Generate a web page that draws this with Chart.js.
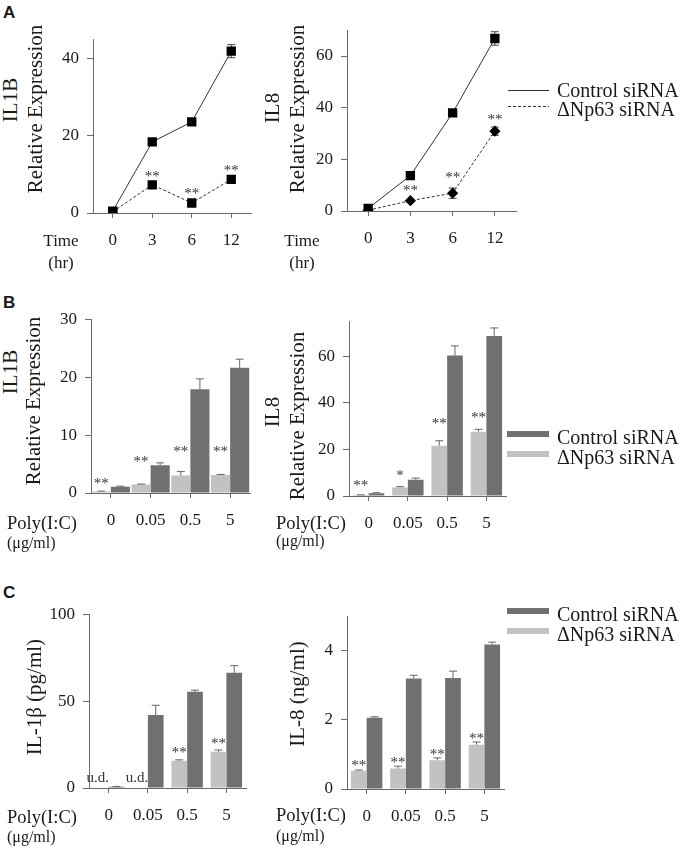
<!DOCTYPE html>
<html lang="en">
<head>
<meta charset="UTF-8">
<title>IL1B / IL8 after ΔNp63 knockdown</title>
<script src="https://cdn.jsdelivr.net/npm/chart.js"></script>
<style>
  body { margin: 0; background: #fff; }
  #fig { position: relative; width: 685px; height: 849px; overflow: hidden;
         font-family: 'Liberation Serif', 'Times New Roman', serif; color: #1a1a1a; }
  #fig canvas { position: absolute; }
  .txt { position: absolute; white-space: nowrap; font-size: 17px; line-height: 1; transform: translate(0, -50%); }
  .ctr { transform: translate(-50%, -50%); }
  .poly { font-size: 18.5px; }
  .unit { font-size: 16px; }
  .vert { position: absolute; white-space: nowrap; font-size: 21px; line-height: 1; transform: translate(-50%, -50%) rotate(-90deg); }
  .panel { position: absolute; left: 3px; font: bold 17px 'Liberation Sans', Arial, sans-serif; line-height: 1; }
  .leg { position: absolute; left: 557px; font-size: 20px; line-height: 1; white-space: nowrap; transform: translate(0, -50%); }
  svg { position: absolute; left: 0; top: 0; }
</style>
</head>
<body>
<div id="fig">
  <div class="panel" style="top:4px">A</div>
  <div class="panel" style="top:294px">B</div>
  <div class="panel" style="top:584px">C</div>

  <canvas id="a1"></canvas><canvas id="a2"></canvas>
  <canvas id="b1"></canvas><canvas id="b2"></canvas>
  <canvas id="c1"></canvas><canvas id="c2"></canvas>

  <!-- axis titles -->
  <div class="vert" style="left:10px;top:100px">IL1B</div>
  <div class="vert" style="left:35px;top:109px">Relative Expression</div>
  <div class="vert" style="left:272px;top:108px">IL8</div>
  <div class="vert" style="left:297px;top:109px">Relative Expression</div>
  <div class="vert" style="left:10px;top:372px">IL1B</div>
  <div class="vert" style="left:33px;top:401px">Relative Expression</div>
  <div class="vert" style="left:272px;top:412px">IL8</div>
  <div class="vert" style="left:297px;top:416px">Relative Expression</div>
  <div class="vert" style="left:34px;top:697px">IL-1β (pg/ml)</div>
  <div class="vert" style="left:297px;top:694px">IL-8 (ng/ml)</div>

  <!-- row captions for the x axes -->
  <div class="txt ctr" style="left:61px;top:240px">Time</div>
  <div class="txt ctr" style="left:61px;top:262px">(hr)</div>
  <div class="txt ctr" style="left:302px;top:240px">Time</div>
  <div class="txt ctr" style="left:302px;top:262px">(hr)</div>
  <div class="txt poly" style="left:7px;top:523px">Poly(I:C)</div>
  <div class="txt unit" style="left:7px;top:543px">(μg/ml)</div>
  <div class="txt poly" style="left:276px;top:523px">Poly(I:C)</div>
  <div class="txt unit" style="left:276px;top:541px">(μg/ml)</div>
  <div class="txt poly" style="left:7px;top:817px">Poly(I:C)</div>
  <div class="txt unit" style="left:7px;top:837px">(μg/ml)</div>
  <div class="txt poly" style="left:276px;top:815px">Poly(I:C)</div>
  <div class="txt unit" style="left:276px;top:836px">(μg/ml)</div>

  <!-- legends -->
  <svg width="685" height="849">
    <line x1="508" y1="90.5" x2="549" y2="90.5" stroke="#333" stroke-width="1"/>
    <line x1="508" y1="106.5" x2="549" y2="106.5" stroke="#333" stroke-width="1" stroke-dasharray="3,2"/>
    <rect x="507" y="431" width="42" height="6" fill="#707070"/>
    <rect x="507" y="451" width="42" height="6" fill="#c2c2c2"/>
    <rect x="507" y="608" width="42" height="6" fill="#707070"/>
    <rect x="507" y="628" width="42" height="6" fill="#c2c2c2"/>
  </svg>
  <div class="leg" style="top:90px">Control siRNA</div>
  <div class="leg" style="top:109px">ΔNp63 siRNA</div>
  <div class="leg" style="top:437px">Control siRNA</div>
  <div class="leg" style="top:457px">ΔNp63 siRNA</div>
  <div class="leg" style="top:614px">Control siRNA</div>
  <div class="leg" style="top:634px">ΔNp63 siRNA</div>
</div>

<script>
// ---- A: time course, relative expression ----
const timeLabels = ['0', '3', '6', '12'];

const il1bTimeCtrl = [0.5, 18.4, 23.6, 41.9];
const il1bTimeCtrlErr = [0.2, 0.4, 0.5, 1.7];
const il1bTimeKd = [0.3, 7.3, 2.6, 8.7];
const il1bTimeKdErr = [0.2, 0.4, 0.3, 0.5];
const il1bTimeMarks = ['', '**', '**', '**'];
const il1bTimeMarkAt = [0, 9.8, 5.4, 11.5];
const il1bTimeTicks = [0, 20, 40];

const il8TimeCtrl = [1.0, 13.7, 38.0, 66.8];
const il8TimeCtrlErr = [0.3, 0.6, 0.8, 2.6];
const il8TimeKd = [0.3, 4.0, 6.9, 30.9];
const il8TimeKdErr = [0.2, 0.5, 2.0, 1.6];
const il8TimeMarks = ['', '**', '**', '**'];
const il8TimeMarkAt = [0, 8.4, 13.5, 36.1];
const il8TimeTicks = [0, 20, 40, 60];

// ---- B: Poly(I:C) dose, relative expression ----
const doseLabels = ['0', '0.05', '0.5', '5'];

const il1bDoseCtrl = [1.07, 4.8, 17.9, 21.6];
const il1bDoseCtrlErr = [0.12, 0.4, 1.8, 1.5];
const il1bDoseKd = [0.28, 1.46, 3.0, 3.1];
const il1bDoseKdErr = [0.05, 0.08, 0.7, 0.1];
const il1bDoseMarks = ['**', '**', '**', '**'];
const il1bDoseMarkAt = [1.9, 5.6, 7.4, 7.4];
const il1bDoseTicks = [0, 10, 20, 30];

const il8DoseCtrl = [1.2, 7.0, 60.3, 68.7];
const il8DoseCtrlErr = [0.2, 0.7, 4.1, 3.4];
const il8DoseKd = [0.4, 3.6, 21.6, 27.6];
const il8DoseKdErr = [0.1, 0.4, 2.1, 1.0];
const il8DoseMarks = ['**', '*', '**', '**'];
const il8DoseMarkAt = [5.2, 9.4, 31.6, 34.4];
const il8DoseTicks = [0, 20, 40, 60];

// ---- C: secreted protein ----
const il1bProtCtrl = [0.7, 42, 55.4, 66.3];
const il1bProtCtrlErr = [0.2, 5.6, 0.9, 4.1];
const il1bProtKd = [null, null, 15.7, 20.8];
const il1bProtKdErr = [0, 0, 0.5, 1.1];
const il1bProtMarks = ['u.d.', 'u.d.', '**', '**'];
const il1bProtMarkAt = [5.1, 5.1, 21.3, 26.4];
const il1bProtTicks = [0, 50, 100];

const il8ProtCtrl = [2.06, 3.2, 3.21, 4.18];
const il8ProtCtrlErr = [0.03, 0.09, 0.2, 0.07];
const il8ProtKd = [0.53, 0.59, 0.83, 1.28];
const il8ProtKdErr = [0.02, 0.07, 0.07, 0.08];
const il8ProtMarks = ['**', '**', '**', '**'];
const il8ProtMarkAt = [0.73, 0.80, 1.03, 1.50];
const il8ProtTicks = [0, 2, 4];

const SERIF = "'Liberation Serif', 'Times New Roman', serif";
const INK = '#1a1a1a';
const AXIS = '#6a6a6a';
const DARK = '#707070';
const LIGHT = '#c2c2c2';

Chart.defaults.font.family = SERIF;
Chart.defaults.color = INK;
Chart.defaults.animation = false;

// chart area of each plot, in page pixels
const PAD_T = 14, PAD_R = 16, AX_W = 60, AX_H = 44;
const boxes = {
  a1: { L: 93, R: 251, T: 35, B: 213 },
  a2: { L: 347, R: 516, T: 26, B: 211 },
  b1: { L: 91, R: 250, T: 315, B: 493 },
  b2: { L: 349, R: 506, T: 317, B: 496 },
  c1: { L: 89, R: 246, T: 610, B: 788 },
  c2: { L: 347, R: 504, T: 612, B: 789 }
};

function mount(id) {
  const b = boxes[id];
  const c = document.getElementById(id);
  c.width = b.R - b.L + AX_W + PAD_R;
  c.height = b.B - b.T + PAD_T + AX_H;
  c.style.left = (b.L - AX_W) + 'px';
  c.style.top = (b.T - PAD_T) + 'px';
  return c;
}

function drawErrors(chart, behind) {
  const ctx = chart.ctx, y = chart.scales.y;
  chart.data.datasets.forEach((ds, i) => {
    if (!ds.errors || !!ds.errBoth !== behind) return;
    const meta = chart.getDatasetMeta(i);
    meta.data.forEach((el, j) => {
      const v = ds.data[j], e = ds.errors[j];
      if (v == null || !e) return;
      const cap = ds.errCap || 4;
      const yt = y.getPixelForValue(v + e);
      const yb = ds.errBoth ? y.getPixelForValue(v - e) : y.getPixelForValue(v);
      ctx.save();
      ctx.strokeStyle = ds.errColor || '#555';
      ctx.lineWidth = 1;
      ctx.beginPath();
      ctx.moveTo(el.x, yb); ctx.lineTo(el.x, yt);
      ctx.moveTo(el.x - cap, yt); ctx.lineTo(el.x + cap, yt);
      if (ds.errBoth) { ctx.moveTo(el.x - cap, yb); ctx.lineTo(el.x + cap, yb); }
      ctx.stroke();
      ctx.restore();
    });
  });
}

// error bars: two-sided ones (line charts) go under the markers, bar ones on top
const errorBars = {
  id: 'errorBars',
  beforeDatasetsDraw(chart) { drawErrors(chart, true); },
  afterDatasetsDraw(chart) { drawErrors(chart, false); }
};

// significance marks (** / * / u.d.) above a dataset's points
const sigMarks = {
  id: 'sigMarks',
  afterDatasetsDraw(chart) {
    const ctx = chart.ctx, y = chart.scales.y;
    chart.data.datasets.forEach((ds, i) => {
      if (!ds.marks) return;
      const meta = chart.getDatasetMeta(i);
      ds.marks.forEach((m, j) => {
        if (!m) return;
        const el = meta.data[j];
        const star = m.indexOf('*') >= 0;
        ctx.save();
        ctx.font = '15px ' + SERIF;
        ctx.fillStyle = '#333';
        ctx.textAlign = 'center';
        ctx.textBaseline = 'middle';
        ctx.fillText(m, el.x + (star ? 0 : -3), y.getPixelForValue(ds.markAt[j]) + (star ? 2 : -1));
        ctx.restore();
      });
    });
  }
};

function scales(yMax, yTicks) {
  return {
    x: {
      type: 'category',
      offset: true,
      grid: { display: true, drawOnChartArea: false, offset: false, tickLength: 5, color: AXIS },
      border: { color: AXIS },
      ticks: { font: { size: 17 }, padding: 12, color: INK, maxRotation: 0, autoSkip: false },
      afterFit: s => { s.height = AX_H; }
    },
    y: {
      min: 0, max: yMax,
      grid: { drawOnChartArea: false, tickLength: 6, color: AXIS },
      border: { color: AXIS },
      ticks: { font: { size: 17 }, padding: 8, color: INK },
      afterBuildTicks: s => { s.ticks = yTicks.map(v => ({ value: v })); },
      afterFit: s => { s.width = AX_W; }
    }
  };
}

const baseOptions = {
  responsive: false,
  layout: { padding: { top: PAD_T, right: PAD_R, left: 0, bottom: 0 } },
  plugins: { legend: { display: false }, tooltip: { enabled: false } }
};

function lineChart(id, ctrl, ctrlErr, kd, kdErr, kdStyle, marks, markAt, yMax, yTicks) {
  new Chart(mount(id), {
    type: 'line',
    data: {
      labels: timeLabels,
      datasets: [
        {
          label: 'Control siRNA', data: ctrl, errors: ctrlErr, errBoth: true, errColor: '#444',
          borderColor: '#333', borderWidth: 1, tension: 0,
          pointStyle: 'rect', pointRadius: 6.6, pointBackgroundColor: '#000', pointBorderWidth: 0
        },
        {
          label: 'ΔNp63 siRNA', data: kd, errors: kdErr, errBoth: true, errColor: '#444',
          marks: marks, markAt: markAt,
          borderColor: '#333', borderWidth: 1, borderDash: [3, 2], tension: 0,
          pointStyle: kdStyle, pointRadius: kdStyle === 'rect' ? 6.6 : 5.6,
          pointBackgroundColor: '#000', pointBorderWidth: 0
        }
      ]
    },
    options: Object.assign({}, baseOptions, { scales: scales(yMax, yTicks) }),
    plugins: [errorBars, sigMarks]
  });
}

function barChart(id, ctrl, ctrlErr, kd, kdErr, marks, markAt, yMax, yTicks, catPct) {
  new Chart(mount(id), {
    type: 'bar',
    data: {
      labels: doseLabels,
      datasets: [
        {
          label: 'ΔNp63 siRNA', data: kd, errors: kdErr, errColor: '#666', errCap: 4,
          marks: marks, markAt: markAt,
          backgroundColor: LIGHT, borderWidth: 0, barPercentage: 1, categoryPercentage: catPct
        },
        {
          label: 'Control siRNA', data: ctrl, errors: ctrlErr, errColor: '#666', errCap: 4,
          backgroundColor: DARK, borderWidth: 0, barPercentage: 1, categoryPercentage: catPct
        }
      ]
    },
    options: Object.assign({}, baseOptions, { scales: scales(yMax, yTicks) }),
    plugins: [errorBars, sigMarks]
  });
}

lineChart('a1', il1bTimeCtrl, il1bTimeCtrlErr, il1bTimeKd, il1bTimeKdErr, 'rect',
  il1bTimeMarks, il1bTimeMarkAt, 45, il1bTimeTicks);
lineChart('a2', il8TimeCtrl, il8TimeCtrlErr, il8TimeKd, il8TimeKdErr, 'rectRot',
  il8TimeMarks, il8TimeMarkAt, 70, il8TimeTicks);

barChart('b1', il1bDoseCtrl, il1bDoseCtrlErr, il1bDoseKd, il1bDoseKdErr,
  il1bDoseMarks, il1bDoseMarkAt, 30, il1bDoseTicks, 0.96);
barChart('b2', il8DoseCtrl, il8DoseCtrlErr, il8DoseKd, il8DoseKdErr,
  il8DoseMarks, il8DoseMarkAt, 75, il8DoseTicks, 0.8);

barChart('c1', il1bProtCtrl, il1bProtCtrlErr, il1bProtKd, il1bProtKdErr,
  il1bProtMarks, il1bProtMarkAt, 100, il1bProtTicks, 0.8);
barChart('c2', il8ProtCtrl, il8ProtCtrlErr, il8ProtKd, il8ProtKdErr,
  il8ProtMarks, il8ProtMarkAt, 5, il8ProtTicks, 0.8);
</script>
</body>
</html>
